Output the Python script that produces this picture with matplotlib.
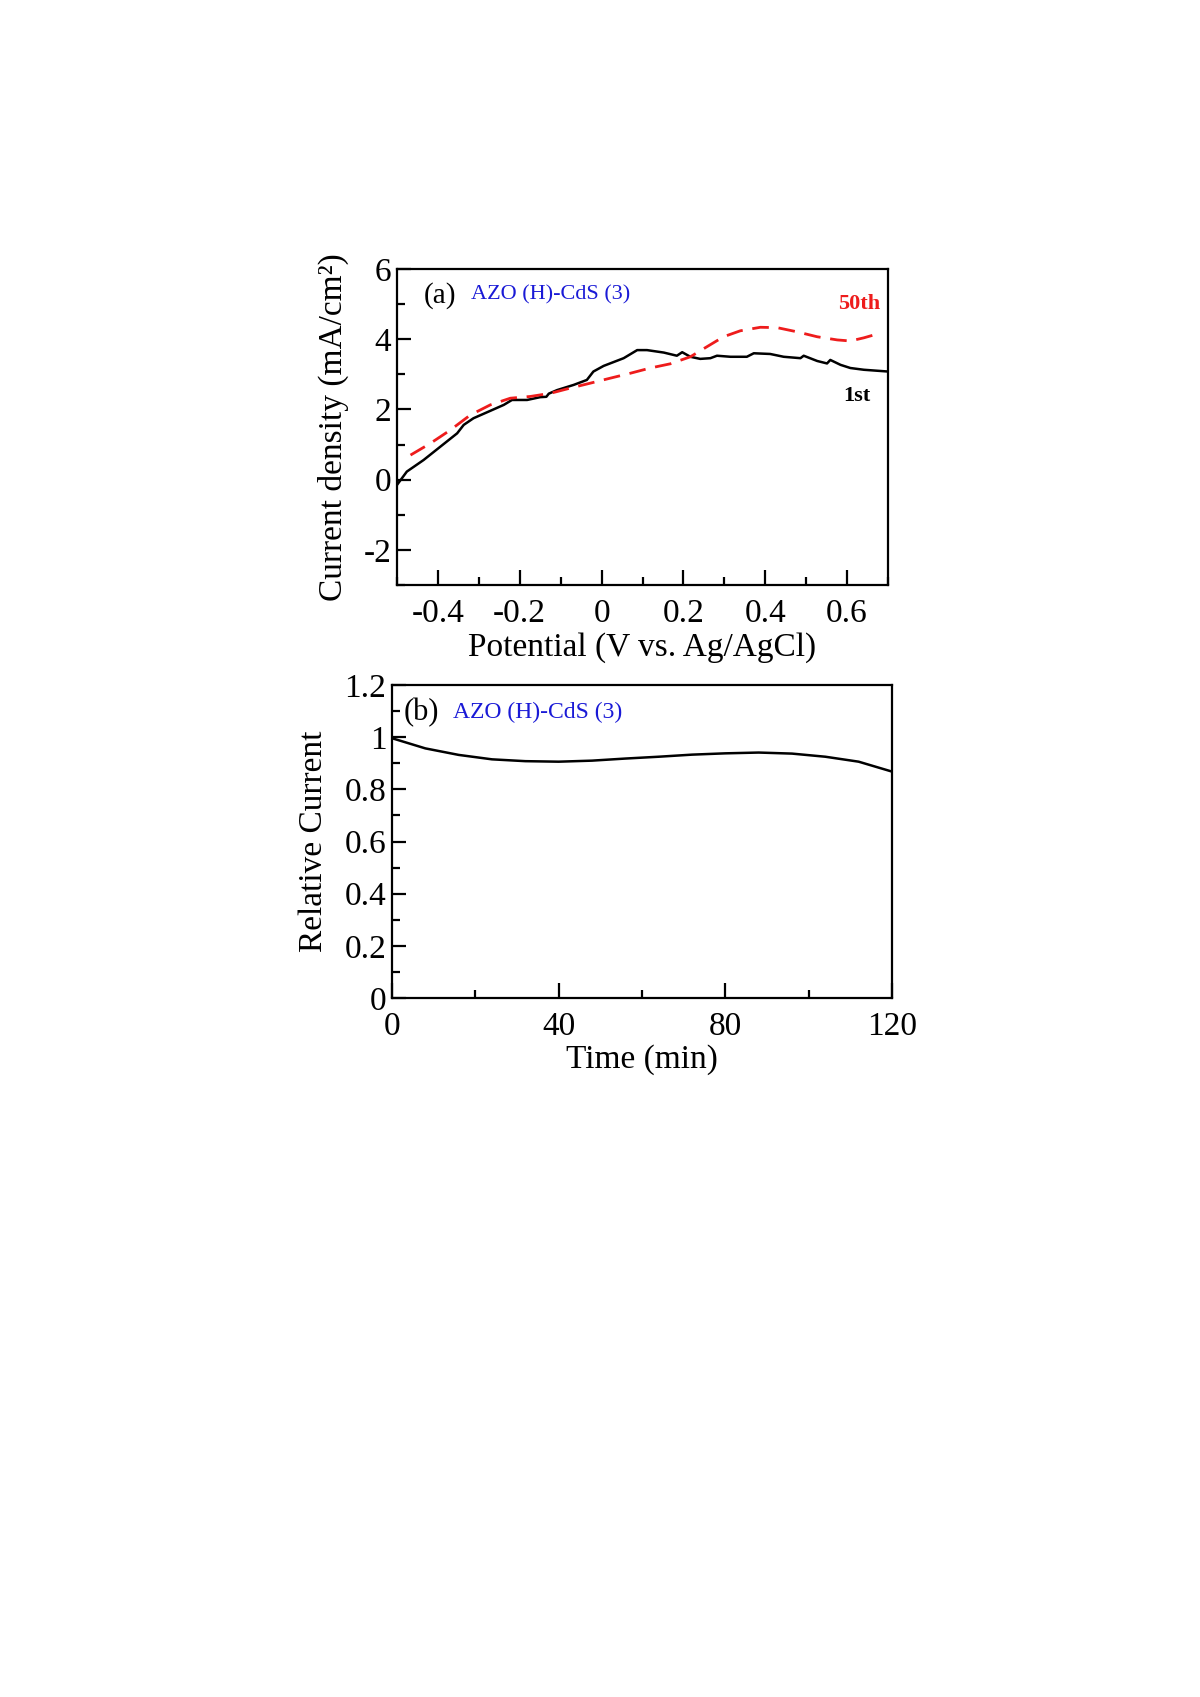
import numpy as np
import matplotlib
matplotlib.use("Agg")
import matplotlib.pyplot as plt
from matplotlib.ticker import FuncFormatter, FixedLocator

plt.rcParams['font.family'] = ['Liberation Serif', 'DejaVu Serif']
plt.rcParams['axes.linewidth'] = 1.6

# (a) current density vs potential
pot_1st = [-0.50, -0.476, -0.435, -0.394, -0.353, -0.337, -0.313, -0.272, -0.239, -0.219,
           -0.182, -0.15, -0.135, -0.129, -0.109, -0.068, -0.036, -0.02, 0.005, 0.054,
           0.087, 0.111, 0.152, 0.184, 0.197, 0.217, 0.241, 0.266, 0.282, 0.315,
           0.355, 0.372, 0.412, 0.445, 0.486, 0.494, 0.527, 0.551, 0.559, 0.584,
           0.608, 0.641, 0.70]
cur_1st = [-0.15, 0.23, 0.56, 0.94, 1.32, 1.56, 1.75, 1.96, 2.13, 2.27,
           2.27, 2.35, 2.36, 2.45, 2.55, 2.70, 2.84, 3.08, 3.24, 3.46,
           3.69, 3.69, 3.62, 3.53, 3.63, 3.50, 3.44, 3.46, 3.53, 3.50,
           3.50, 3.60, 3.58, 3.50, 3.46, 3.53, 3.38, 3.31, 3.41, 3.27,
           3.18, 3.13, 3.08]
pot_50th = [-0.467, -0.419, -0.37, -0.321, -0.272, -0.223, -0.174, -0.125, -0.076, -0.027,
            0.021, 0.07, 0.119, 0.168, 0.217, 0.258, 0.298, 0.339, 0.388, 0.429,
            0.478, 0.527, 0.576, 0.608, 0.641, 0.677]
cur_50th = [0.70, 1.03, 1.41, 1.84, 2.13, 2.32, 2.37, 2.46, 2.61, 2.75,
            2.89, 3.03, 3.18, 3.30, 3.50, 3.79, 4.07, 4.24, 4.34, 4.33,
            4.21, 4.07, 3.98, 3.95, 4.04, 4.16]

# (b) relative current vs time
time_min = [0, 8, 16, 24, 32, 40, 48, 56, 64, 72, 80, 88, 96, 104, 112, 120]
rel_cur = [0.996, 0.957, 0.932, 0.915, 0.908, 0.906, 0.910, 0.918, 0.925, 0.933,
           0.938, 0.941, 0.937, 0.925, 0.906, 0.868]

xticks_a = [-0.4, -0.2, 0, 0.2, 0.4, 0.6]
yticks_a = [-2, 0, 2, 4, 6]
xticks_b = [0, 40, 80, 120]
yticks_b = [0, 0.2, 0.4, 0.6, 0.8, 1, 1.2]

fmt = FuncFormatter(lambda v, p: '%g' % round(v, 3))

fig = plt.figure(figsize=(12, 16.97), dpi=100)
ax1 = fig.add_axes([397/1200, 1 - 585/1697, 491/1200, 316/1697])
ax2 = fig.add_axes([392/1200, 1 - 998/1697, 500/1200, 313/1697])

ax1.plot(pot_1st, cur_1st, color='black', lw=1.8)
ax1.plot(pot_50th, cur_50th, color='#ee1c1c', lw=2.0, dashes=(6, 3.5))
ax1.set_xlim(-0.5, 0.7)
ax1.set_ylim(-3, 6)
ax1.xaxis.set_major_locator(FixedLocator(xticks_a))
ax1.xaxis.set_minor_locator(FixedLocator(np.arange(-0.5, 0.71, 0.1)))
ax1.yaxis.set_major_locator(FixedLocator(yticks_a))
ax1.yaxis.set_minor_locator(FixedLocator(np.arange(-3, 6, 1)))
ax1.set_xlabel('Potential (V vs. Ag/AgCl)', fontsize=24)
ax1.set_ylabel('Current density (mA/cm²)', fontsize=24)
ax1.text(-0.435, 5.25, '(a)', fontsize=21, va='center')
ax1.text(-0.318, 5.25, 'AZO (H)-CdS (3)', fontsize=16, color='#1a1ad6', va='center')
ax1.text(0.68, 5.0, '50th', fontsize=16, color='#ee1c1c', fontweight='bold',
         ha='right', va='center')
ax1.text(0.625, 2.37, '1st', fontsize=16, color='black', fontweight='bold',
         ha='center', va='center')

ax2.plot(time_min, rel_cur, color='black', lw=1.8)
ax2.set_xlim(0, 120)
ax2.set_ylim(0, 1.2)
ax2.xaxis.set_major_locator(FixedLocator(xticks_b))
ax2.xaxis.set_minor_locator(FixedLocator(np.arange(0, 121, 20)))
ax2.yaxis.set_major_locator(FixedLocator(yticks_b))
ax2.yaxis.set_minor_locator(FixedLocator(np.arange(0, 1.21, 0.1)))
ax2.set_xlabel('Time (min)', fontsize=24)
ax2.set_ylabel('Relative Current', fontsize=24)
ax2.text(2.7, 1.094, '(b)', fontsize=22, va='center')
ax2.text(14.7, 1.094, 'AZO (H)-CdS (3)', fontsize=17, color='#1a1ad6', va='center')

for ax in (ax1, ax2):
    ax.xaxis.set_major_formatter(fmt)
    ax.yaxis.set_major_formatter(fmt)
    ax.tick_params(which='both', direction='in', top=False, right=False, width=1.6,
                   labelsize=24)
    ax.tick_params(axis='x', which='major', length=11, pad=10)
    ax.tick_params(axis='x', which='minor', length=6)
    ax.tick_params(axis='y', which='major', length=10, pad=4)
    ax.tick_params(axis='y', which='minor', length=6)

ax1.xaxis.set_label_coords(0.5, -0.15)
ax1.yaxis.set_label_coords(-0.098, 0.5)
ax2.xaxis.set_label_coords(0.5, -0.147)
ax2.yaxis.set_label_coords(-0.126, 0.5)
ax1.xaxis.label.set_va('top')
ax2.xaxis.label.set_va('top')

fig.savefig('out.png', dpi=100)
